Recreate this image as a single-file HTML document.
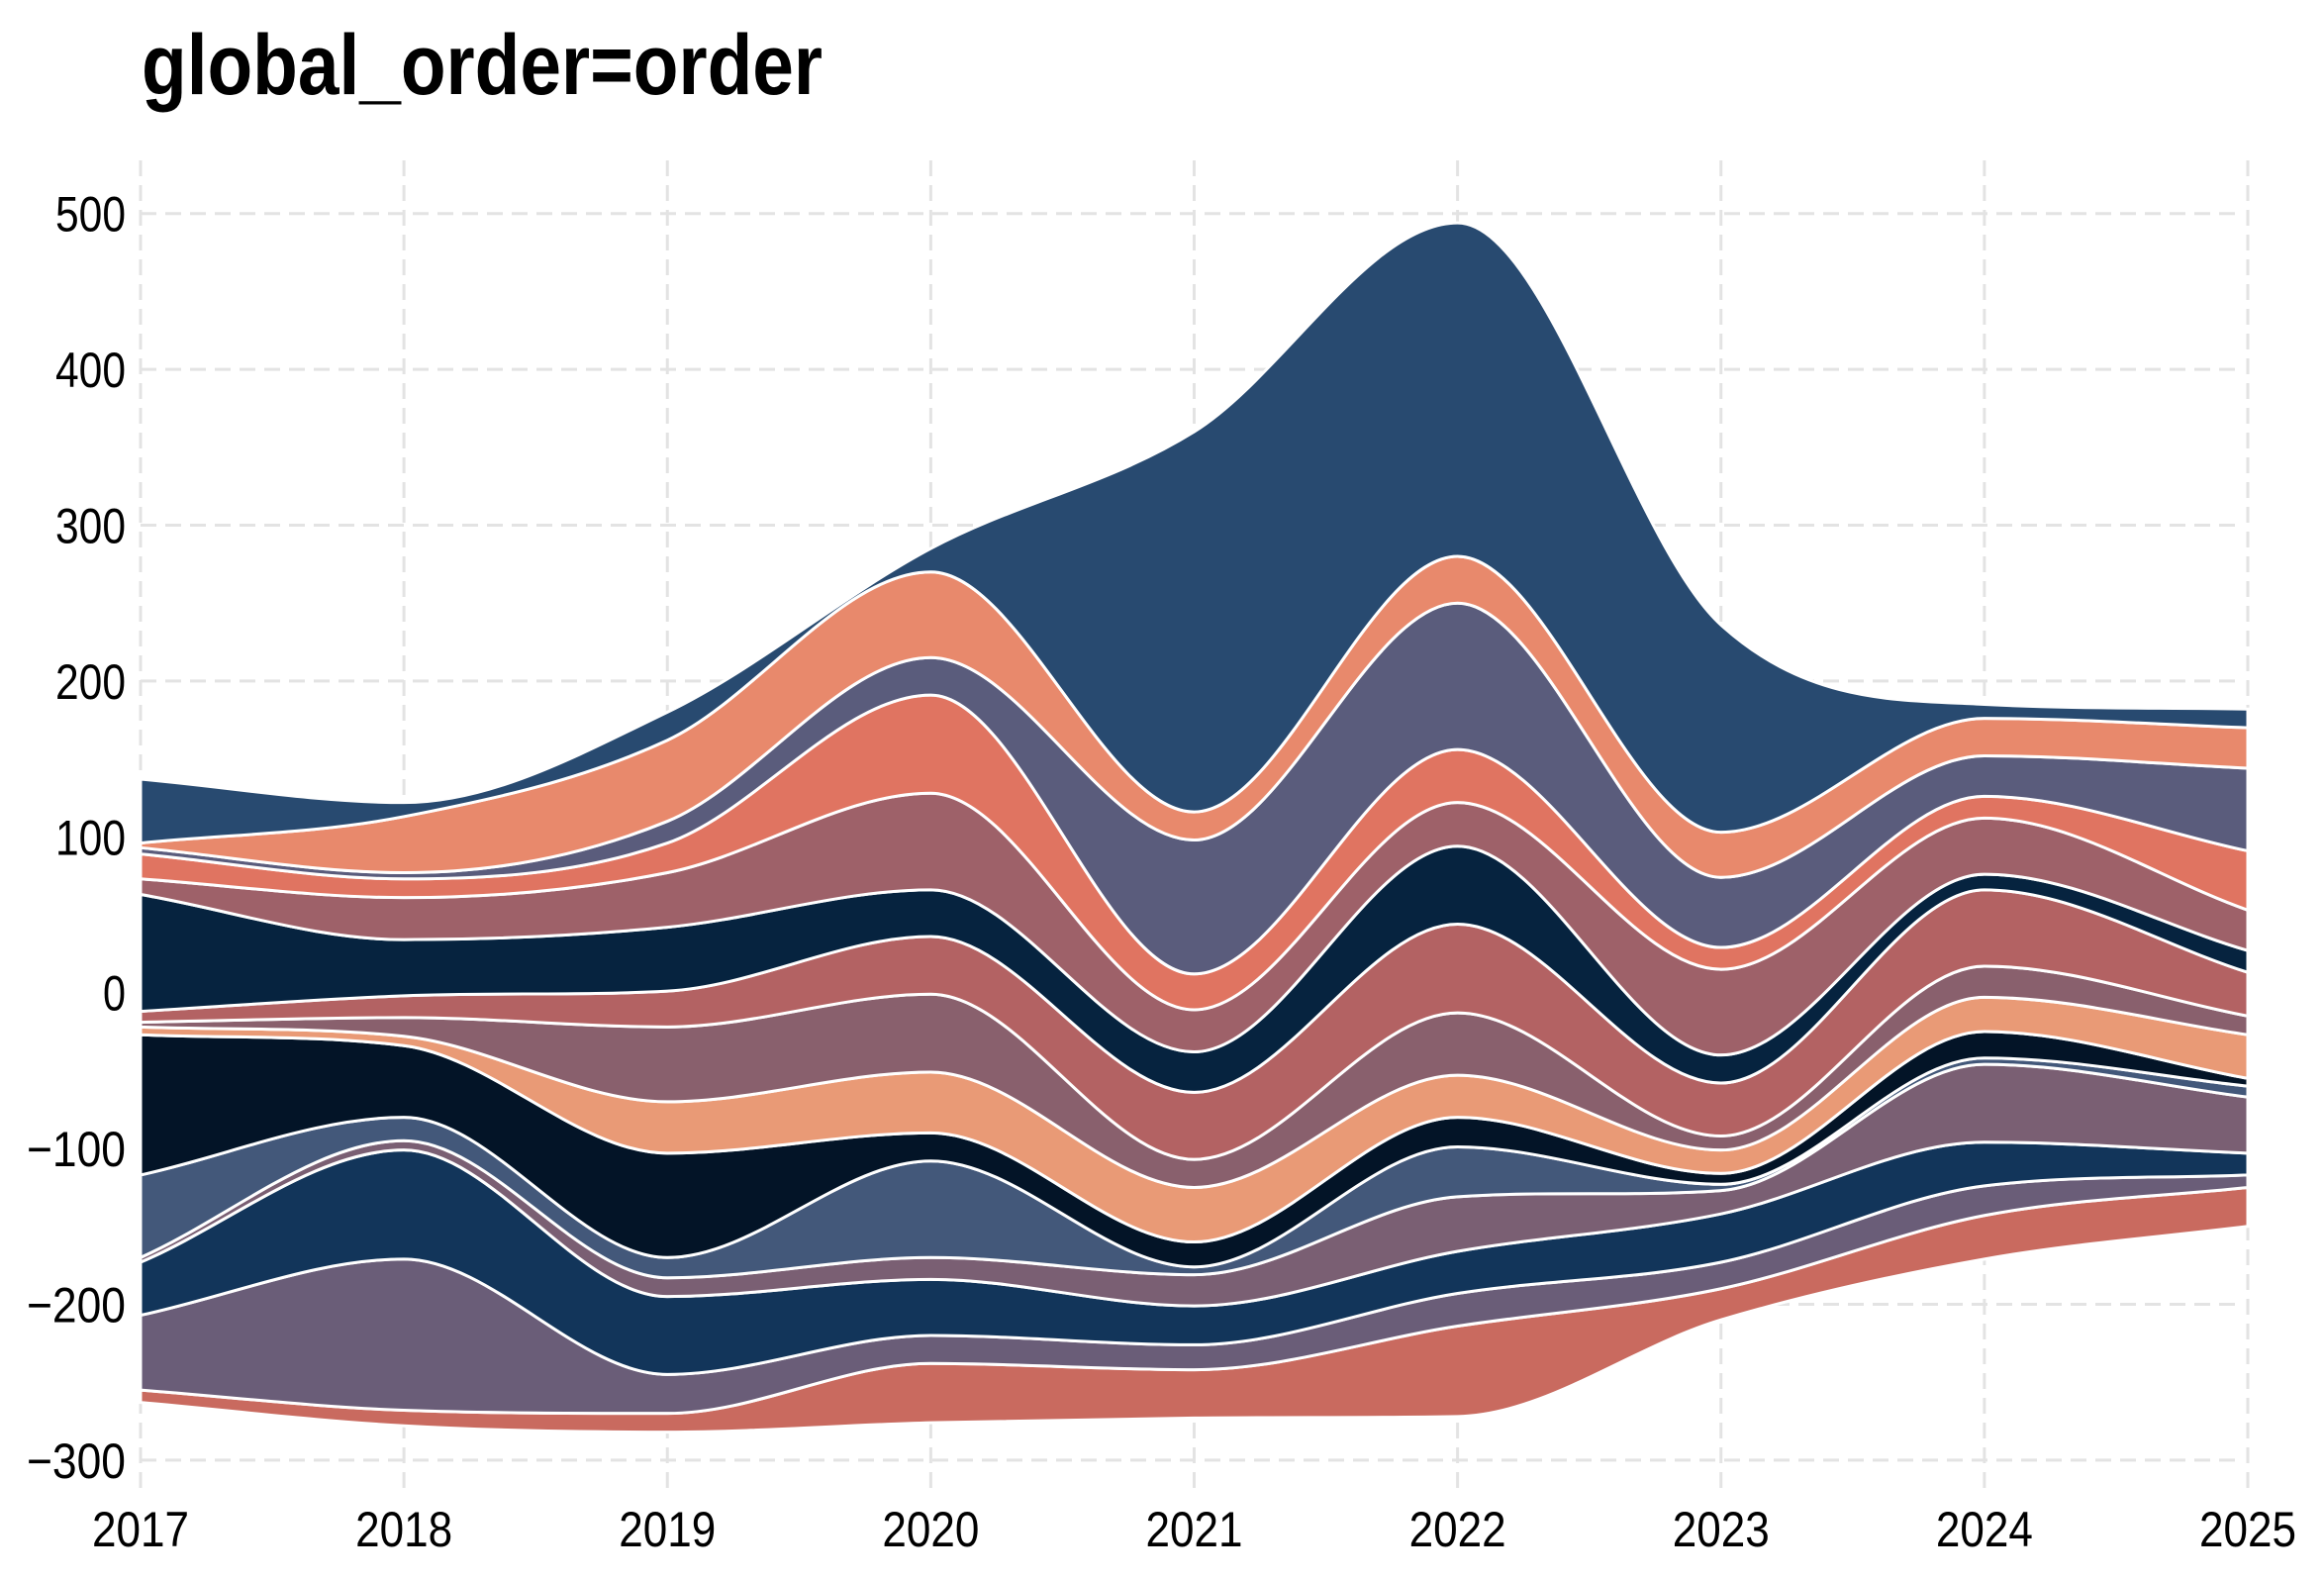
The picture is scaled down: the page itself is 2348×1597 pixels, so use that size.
<!DOCTYPE html>
<html><head><meta charset="utf-8"><style>
html,body{margin:0;padding:0;background:#fff;}
svg{display:block;font-family:"Liberation Sans Narrow","Liberation Sans",sans-serif;}
</style></head><body>
<svg id="chart" width="2348" height="1597" viewBox="0 0 2348 1597" xmlns="http://www.w3.org/2000/svg">
<rect width="2348" height="1597" fill="#fff"/>
<g id="grid"></g>
<g id="areas"></g>
<g id="yticks"></g>
<g id="xticks"></g>
<text x="143" y="95" font-size="86" font-weight="bold" textLength="688" lengthAdjust="spacingAndGlyphs">global_order=order</text>
</svg>
<script>
const years = [2017,2018,2019,2020,2021,2022,2023,2024,2025];
const yTicks = [-300,-200,-100,0,100,200,300,400,500];
const yTickLabels = ["\u2212300","\u2212200","\u2212100","0","100","200","300","400","500"];
const baseline = [-263,-278,-282,-276,-273,-272,-210,-171,-150];
// layers listed bottom to top
const s15 = [8,10,12,38,31,58,20,28,25];
const s14 = [48,97,25,18,16,21,17,19,8];
const s13 = [34,70,50,36,25,27,31,28,14];
const s12 = [3,6,12,14,20,35,15,50,36];
const s11 = [53,15,13,62,5,32,4,4,7];
const s10 = [90,46,67,18,16,19,7,17,5];
const s9 = [5,6,33,39,35,27,15,22,28];
const s8 = [3,12,48,50,18,40,9,20,12];
const s7 = [7,14,23,37,43,57,34,49,28];
const s6 = [75,36,41,30,26,50,18,10,14];
const s5 = [10,27,35,62,27,28,55,36,26];
const s4 = [16,12,19,63,23,34,14,14,38];
const s3 = [4,4,14,24,86,94,45,26,53];
const s2 = [3,36,52,55,18,30,29,24,26];
const s1 = [41,9,18,15,244,214,133,9,12];
const series = [s15,s14,s13,s12,s11,s10,s9,s8,s7,s6,s5,s4,s3,s2,s1];
const colors = ["#c96a5f","#6a5d78","#12355a","#7a5f73","#43587a","#031427","#e99a76","#89606d","#b36263","#06233f","#9e6169","#e07461","#5a5c7c","#e8896c","#284a70"];

const X0=142, X1=2271, Y500=215.7, PER100=157.4;
const xs = y => X0 + (y-2017)*(X1-X0)/8;
const ys = v => Y500 + (500-v)*PER100/100;
const NS="http://www.w3.org/2000/svg";

function monotone(pts){
  const n=pts.length; const m=new Array(n); const d=[];
  for(let i=0;i<n-1;i++) d.push((pts[i+1][1]-pts[i][1])/(pts[i+1][0]-pts[i][0]));
  for(let i=1;i<n-1;i++){ m[i]=(d[i-1]*d[i]<=0)?0:(d[i-1]+d[i])/2;
    const a=Math.abs(d[i-1]),b=Math.abs(d[i]); if(m[i]!==0){const lim=3*Math.min(a,b); if(Math.abs(m[i])>lim) m[i]=Math.sign(m[i])*lim;} }
  m[0]=d[0]; m[n-1]=d[n-2];
  let s="";
  for(let i=0;i<n-1;i++){const h=(pts[i+1][0]-pts[i][0])/3;
    s+=` C${pts[i][0]+h},${pts[i][1]+m[i]*h} ${pts[i+1][0]-h},${pts[i+1][1]-m[i+1]*h} ${pts[i+1][0]},${pts[i+1][1]}`;}
  return s;
}

const grid=document.getElementById('grid');
yTicks.forEach(t=>{const l=document.createElementNS(NS,'line');
  
  
  l.setAttribute('x1',X0);l.setAttribute('x2',X1-8);l.setAttribute('y1',ys(t));l.setAttribute('y2',ys(t));
  l.setAttribute('stroke','#e3e3e3');l.setAttribute('stroke-width','3');l.setAttribute('stroke-dasharray','16,9');grid.appendChild(l);});
years.forEach(y=>{const l=document.createElementNS(NS,'line');
  
  
  l.setAttribute('x1',xs(y));l.setAttribute('x2',xs(y));l.setAttribute('y1',162);l.setAttribute('y2',1510);
  l.setAttribute('stroke','#e3e3e3');l.setAttribute('stroke-width','3');l.setAttribute('stroke-dasharray','16,9');grid.appendChild(l);});

const areas=document.getElementById('areas');
let lower=baseline.slice();
series.forEach((s,k)=>{
  const upper=lower.map((v,i)=>v+s[i]);
  const up=years.map((y,i)=>[xs(y),ys(upper[i])]);
  const lo=years.map((y,i)=>[xs(y),ys(lower[i])]).reverse();
  const d=`M${up[0][0]},${up[0][1]}`+monotone(up)+` L${lo[0][0]},${lo[0][1]}`+monotone(lo)+' Z';
  const p=document.createElementNS(NS,'path');
  
  
  p.setAttribute('d',d);p.setAttribute('fill',colors[k]);p.setAttribute('stroke','#fff');p.setAttribute('stroke-width','3');
  areas.appendChild(p);
  lower=upper;
});

const yt=document.getElementById('yticks');
yTicks.forEach((t,i)=>{const tx=document.createElementNS(NS,'text');
  
  
  const lab=yTickLabels[i];
  tx.setAttribute('x',127);tx.setAttribute('y',ys(t)+18);tx.setAttribute('text-anchor','end');tx.setAttribute('font-size','50');
  tx.setAttribute('textLength', lab.length===1?23:(lab.length===3?71:100));
  tx.setAttribute('lengthAdjust','spacingAndGlyphs');
  tx.textContent=lab;yt.appendChild(tx);});
const xt=document.getElementById('xticks');
years.forEach(y=>{const tx=document.createElementNS(NS,'text');
  
  
  tx.setAttribute('x',xs(y));tx.setAttribute('y',1562);tx.setAttribute('text-anchor','middle');tx.setAttribute('font-size','50');
  tx.setAttribute('textLength',98);tx.setAttribute('lengthAdjust','spacingAndGlyphs');
  tx.textContent=String(y);xt.appendChild(tx);});
</script>
</body></html>
